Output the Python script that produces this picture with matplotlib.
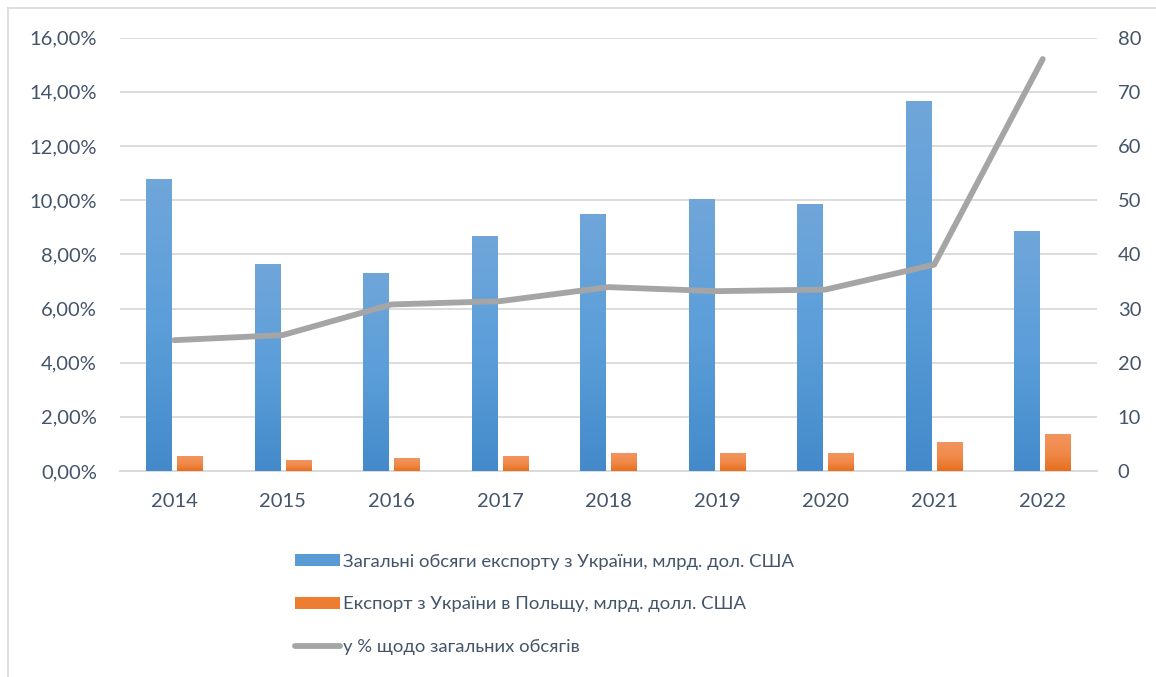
import numpy as np
import matplotlib
matplotlib.use("Agg")
import matplotlib.pyplot as plt
from matplotlib.patches import Rectangle
from matplotlib.lines import Line2D
from matplotlib.colors import LinearSegmentedColormap
from matplotlib.ticker import FuncFormatter

years = ["2014", "2015", "2016", "2017", "2018", "2019", "2020", "2021", "2022"]
total_exports = [53.9, 38.1, 36.4, 43.3, 47.3, 50.1, 49.2, 68.2, 44.3]
poland_exports = [2.6, 1.85, 2.3, 2.65, 3.15, 3.15, 3.15, 5.2, 6.65]
share_pct = [0.0483, 0.0502, 0.0615, 0.0627, 0.0679, 0.0664, 0.0670, 0.0762, 0.1521]

labels = ["Загальні обсяги експорту з України, млрд. дол. США",
          "Експорт з України в Польщу, млрд. долл. США",
          "у % щодо загальних обсягів"]

plt.rcParams['font.family'] = ['Lato', 'DejaVu Sans']
txt = '#445469'
grid_c = '#d9d9d9'
W, H = 1156, 677

fig = plt.figure(figsize=(W/100, H/100), dpi=100)
# outer chart frame (left and top edges visible)
fig.lines.append(Line2D([8/W, 8/W], [0, 1 - 8/H], transform=fig.transFigure,
                        color='#d9d9d9', linewidth=1.2))
fig.lines.append(Line2D([8/W, 1], [1 - 8/H, 1 - 8/H], transform=fig.transFigure,
                        color='#d9d9d9', linewidth=1.2))

ax = fig.add_axes([120/W, (H-471)/H, (1097-120)/W, (471-37.7)/H])
ax2 = ax.twinx()

blue_cmap = LinearSegmentedColormap.from_list('b', ['#448aca', '#5b9ed9', '#70a6da'])
orange_cmap = LinearSegmentedColormap.from_list('o', ['#e66f1e', '#f08a4a', '#f29460'])

x = np.arange(len(years))
w = 0.235
gap = 0.05
grad = np.linspace(0, 1, 256).reshape(-1, 1)

def gbar(xc, h, cmap):
    ax.imshow(grad, extent=[xc - w/2, xc + w/2, 0, h], origin='lower',
              cmap=cmap, aspect='auto', zorder=3, interpolation='bilinear')

for i in range(len(years)):
    gbar(x[i] - (w + gap)/2, total_exports[i], blue_cmap)
    gbar(x[i] + (w + gap)/2, poland_exports[i], orange_cmap)

ax.set_xlim(-0.5, len(years) - 0.5)
ax.set_ylim(0, 80)
ax.set_yticks(np.arange(0, 81, 10))
ax.yaxis.tick_right()
ax.set_xticks(x)
ax.set_xticklabels(years)
ax.grid(axis='y', color=grid_c, linewidth=1.3, zorder=0)
ax.set_axisbelow(True)

ax2.plot(x, share_pct, color='#a5a5a5', linewidth=4.2, solid_capstyle='round',
         solid_joinstyle='round', zorder=5)
ax2.set_ylim(0, 0.16)
ax2.set_yticks(np.arange(0, 0.161, 0.02))
ax2.yaxis.tick_left()
ax2.yaxis.set_major_formatter(FuncFormatter(lambda v, p: f"{v*100:.2f}%".replace('.', ',')))

for a in (ax, ax2):
    for s in a.spines.values():
        s.set_visible(False)
    a.tick_params(length=0, labelsize=14.5, labelcolor=txt)
ax.spines['bottom'].set_visible(True)
ax.spines['bottom'].set_color(grid_c)
ax.spines['bottom'].set_linewidth(1.3)
ax.tick_params(axis='x', pad=15.5)
ax.tick_params(axis='y', pad=15)
ax2.tick_params(axis='y', pad=16.5)

handles = [Rectangle((0, 0), 1, 1, facecolor='#5b9bd5', edgecolor='none'),
           Rectangle((0, 0), 1, 1, facecolor='#ed7d31', edgecolor='none'),
           Line2D([], [], color='#a5a5a5', linewidth=4.2, solid_capstyle='round')]
leg = fig.legend(handles, labels, loc='upper left', bbox_to_anchor=(278/W, 1 - 537/H),
                 frameon=False, fontsize=13.3, labelcolor=txt, handlelength=2.45,
                 handleheight=0.65, handletextpad=0.15, labelspacing=1.45)

fig.savefig('out.png', dpi=100)
